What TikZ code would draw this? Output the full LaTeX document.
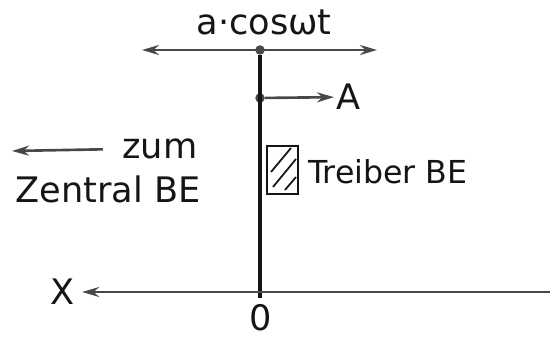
\documentclass[tikz,border=0pt]{standalone}
\usepackage{fontspec}
\setmainfont{DejaVu Sans}
\usepackage{tikz}
\usetikzlibrary{arrows.meta,positioning}
\definecolor{PenGray}{HTML}{484848}
\definecolor{PenBlack}{HTML}{151515}

\begin{document}
\begin{tikzpicture}[
    x=0.02cm, y=-0.02cm,
    font=\fontsize{18}{21}\selectfont,
    lbl/.style={inner sep=1pt, text=PenBlack},
    biglbl/.style={lbl, font=\fontsize{20}{24}\selectfont},
    dot/.style={circle, fill=PenGray, inner sep=0pt, minimum size=1.9mm},
    arr/.style={-{Stealth[length=3.4mm, width=2mm]}, draw=PenGray, line width=1.5pt},
    dblarr/.style={{Stealth[length=3.4mm, width=2mm]}-{Stealth[length=3.4mm, width=2mm]}, draw=PenGray, line width=1.5pt},
    rod/.style={draw=PenBlack, line width=2pt}
]
\useasboundingbox (0,0) rectangle (550,340);
% oben: Bewegung a cos wt
\node[dot] (top) at (260,50) {};
\coordinate (topL) at (142,50);
\coordinate (topR) at (377,50);
\node[biglbl] (cos) at (264,22) {a·cosωt};
\draw[dblarr] (topL) -- (topR);
% Stab und Punkt A
\node[dot] (pA) at (260,98) {};
\node[biglbl, anchor=west] (A) at (334,97) {A};
\coordinate (bot) at (260,298);
\draw[rod] (top) -- (bot);
\draw[arr] (pA) -- (A);
% Treiber BE
\node[draw=PenBlack, line width=1.2pt, minimum width=31*0.02cm, minimum height=48*0.02cm, inner sep=0pt] (box) at (282.5,170) {};
\draw[PenBlack, line width=1pt] (271,172) -- (291,148);
\draw[PenBlack, line width=1pt] (273,187) -- (296,159);
\draw[PenBlack, line width=1pt] (285,190) -- (296,177);
\node[lbl, anchor=west] (treiber) at (306,172) {Treiber BE};
% zum Zentral BE
\node[biglbl] (zum) at (160,149) {zum};
\coordinate (zumL) at (12,151);
\draw[arr, shorten <=0.35cm] (zum.west) -- (zumL);
\node[biglbl] (zentral) at (108,189) {Zentral BE};
% x-Achse
\node[biglbl] (X) at (63,292) {X};
\coordinate (xR) at (550,292);
\draw[arr, shorten >=0.1cm] (xR) -- (X.east);
\node[biglbl] (null) at (261,318) {0};
\end{tikzpicture}
\end{document}
